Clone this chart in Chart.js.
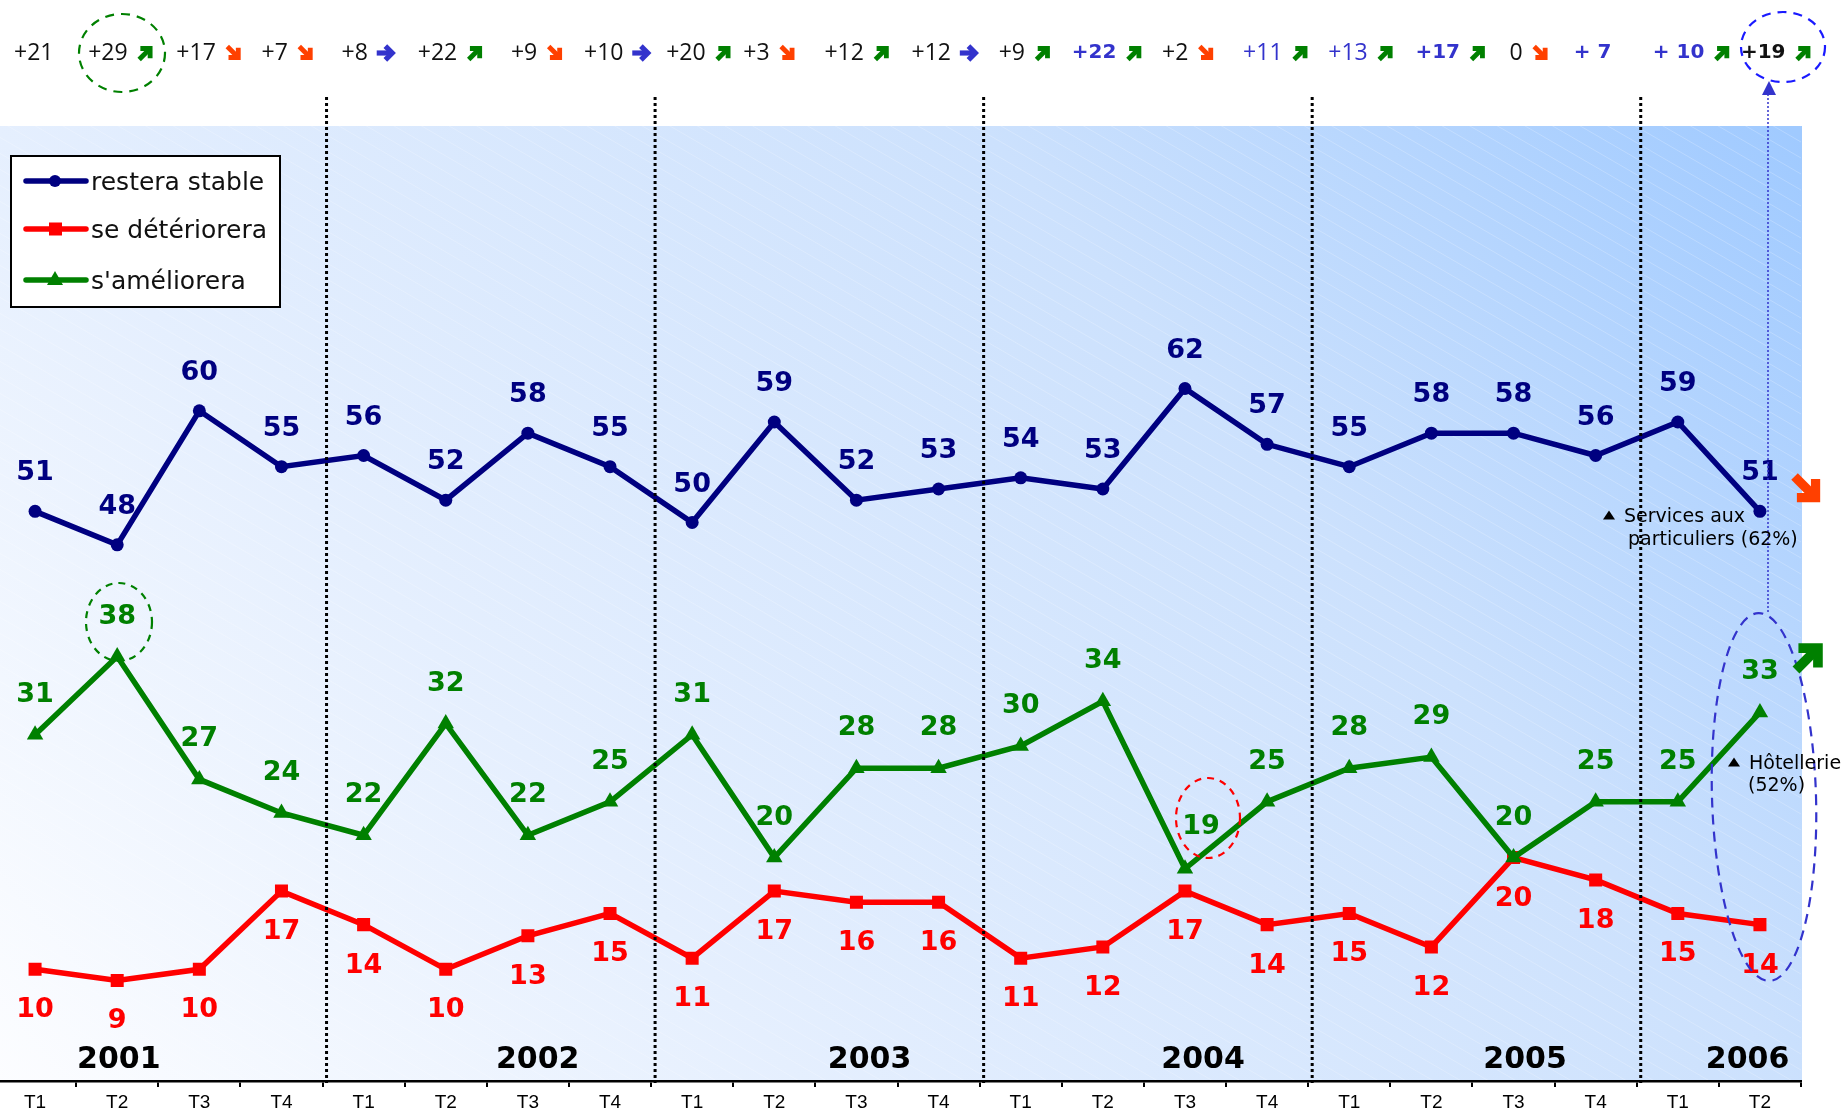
<!DOCTYPE html>
<html><head><meta charset="utf-8">
<script src="https://cdn.jsdelivr.net/npm/chart.js@4.4.1/dist/chart.umd.min.js"></script>
<style>
html,body{margin:0;padding:0;background:#fff;overflow:hidden;width:1841px;height:1114px;}
#wrap{position:absolute;left:-6px;top:0;width:1847px;height:1114px;}
</style></head>
<body><div id="wrap"><canvas id="c" width="1847" height="1114"></canvas></div>
<script>
// ---------------- DATA ----------------
const categories = ['T1','T2','T3','T4','T1','T2','T3','T4','T1','T2','T3','T4','T1','T2','T3','T4','T1','T2','T3','T4','T1','T2'];
const years = ['2001','2002','2003','2004','2005','2006'];
const stable = [51,48,60,55,56,52,58,55,50,59,52,53,54,53,62,57,55,58,58,56,59,51];
const worse  = [10,9,10,17,14,10,13,15,11,17,16,16,11,12,17,14,15,12,20,18,15,14];
const better = [31,38,27,24,22,32,22,25,31,20,28,28,30,34,19,25,28,29,20,25,25,33];
const seriesNames = ['restera stable','se détériorera',"s'améliorera"];
const balanceText  = ['+21','+29','+17','+7','+8','+22','+9','+10','+20','+3','+12','+12','+9','+22','+2','+11','+13','+17','0','+ 7','+ 10','+19'];
const balanceArrow = ['','up','down','down','right','up','down','right','up','down','up','right','up','up','down','up','up','up','down','','up','up'];
// n = normal black, b = normal blue, B = bold blue, K = bold black
const balanceStyle = ['n','n','n','n','n','n','n','n','n','n','n','n','n','B','n','b','b','B','n','B','B','K'];
const noteStable = ['Services aux','particuliers (62%)'];
const noteBetter = ['Hôtellerie','(52%)'];

// ---------------- LAYOUT ----------------
const SHIFT = 6;               // canvas is shifted 6px left of the page
const yearPos = [1.02, 6.12, 10.16, 14.22, 18.14, 20.85];
const topOffset = [-21,-29,-23,-20,-22,-28,-17,-26,-26,-31,-32,-27,-22,-31,-23,-24,-21,-16,-4,-22,-25,-19];
const NAVY = '#000080', RED = '#ff0000', GREEN = '#008000', BLUE = '#3333cc', ORANGE = '#ff4000';

function drawArrow(ctx, x, y, dir, s) {
  const ang = dir === 'up' ? -Math.PI/4 : dir === 'down' ? Math.PI/4 : 0;
  const col = dir === 'up' ? GREEN : dir === 'down' ? ORANGE : BLUE;
  ctx.save();
  ctx.translate(x, y); ctx.rotate(ang); ctx.scale(s, s);
  ctx.strokeStyle = col; ctx.lineWidth = dir === 'right' ? 4.5 : 4.2; ctx.lineJoin = 'miter'; ctx.lineCap = 'butt';
  ctx.setLineDash([]);
  ctx.beginPath(); ctx.moveTo(-8, 0); ctx.lineTo(5, 0); ctx.stroke();
  ctx.beginPath(); ctx.moveTo(-0.5, -6); ctx.lineTo(5.5, 0); ctx.lineTo(-0.5, 6); ctx.stroke();
  ctx.restore();
}
function tri(ctx, x, y, w, h, col) {
  ctx.fillStyle = col; ctx.beginPath();
  ctx.moveTo(x, y - h/2); ctx.lineTo(x + w/2, y + h/2); ctx.lineTo(x - w/2, y + h/2); ctx.closePath(); ctx.fill();
}
function dashedEllipse(ctx, cx, cy, rx, ry, rot, col, dash) {
  ctx.save(); ctx.strokeStyle = col; ctx.lineWidth = 2.2; ctx.setLineDash(dash);
  ctx.beginPath(); ctx.ellipse(cx, cy, rx, ry, rot, 0, Math.PI*2); ctx.stroke(); ctx.restore();
}

const bgPlugin = {
  id: 'bg',
  beforeDraw(chart) {
    const {ctx, chartArea: a} = chart;
    const W = a.right - a.left, H = a.bottom - a.top;
    ctx.save();
    ctx.fillStyle = '#fff'; ctx.fillRect(0, 0, chart.width, chart.height);
    const g = ctx.createLinearGradient(a.left, a.bottom, a.left + 0.84 * W, a.bottom - 1.344 * H);
    g.addColorStop(0, '#fcfdff'); g.addColorStop(0.31, '#e5effe'); g.addColorStop(0.69, '#cce1fd');
    g.addColorStop(1, '#a0caff');
    ctx.fillStyle = g;
    ctx.fillRect(a.left, a.top, W + 1, H);
    ctx.beginPath(); ctx.rect(a.left, a.top, W + 1, H); ctx.clip();
    ctx.strokeStyle = 'rgba(255,255,255,0.22)'; ctx.lineWidth = 1;
    const k = 0.58;
    for (let y0 = a.top - W*k; y0 < a.bottom; y0 += 16) {
      ctx.beginPath(); ctx.moveTo(a.left, y0); ctx.lineTo(a.right, y0 + W*k); ctx.stroke();
    }
    ctx.restore();
  },
  afterDatasetsDraw(chart) {
    const {ctx, chartArea: a} = chart;
    const xs = chart.scales.x;
    // year separators
    ctx.save();
    ctx.strokeStyle = '#000'; ctx.lineWidth = 3; ctx.setLineDash([3, 3]);
    [3, 7, 11, 15, 19].forEach(i => {
      const x = (xs.getPixelForValue(i) + xs.getPixelForValue(i + 1)) / 2 + 4;
      ctx.beginPath(); ctx.moveTo(x, 97); ctx.lineTo(x, a.bottom + 2); ctx.stroke();
    });
    ctx.restore();

    // data labels
    ctx.save();
    ctx.font = 'bold 27px "DejaVu Sans"'; ctx.textAlign = 'center'; ctx.textBaseline = 'middle';
    const cfg = [{d: 0, col: NAVY, dy: -38}, {d: 1, col: GREEN, dy: -40}, {d: 2, col: RED, dy: 41}];
    cfg.forEach(c => {
      const meta = chart.getDatasetMeta(c.d);
      const vals = chart.data.datasets[c.d].data;
      meta.data.forEach((p, i) => {
        let dx = 0, dy = c.dy;
        if (c.d === 1 && i === 14) { dx = 16; dy = -42; }
        ctx.fillStyle = c.col;
        ctx.fillText(String(vals[i]), p.x + dx, p.y + dy);
      });
    });
    ctx.fillStyle = '#000'; ctx.font = 'bold 30px "DejaVu Sans"';
    years.forEach((y, i) => ctx.fillText(y, xs.getPixelForValue(yearPos[i]), 1060));
    ctx.restore();

    // top balance row
    ctx.save();
    ctx.textBaseline = 'middle'; ctx.textAlign = 'left';
    balanceText.forEach((t, i) => {
      const st = balanceStyle[i];
      ctx.font = (st === 'B' || st === 'K') ? 'bold 20px "DejaVu Sans"' : '23px "Open Sans"';
      ctx.fillStyle = (st === 'b' || st === 'B') ? BLUE : '#111';
      const x0 = xs.getPixelForValue(i) + topOffset[i];
      ctx.fillText(t, x0, 53);
      if (balanceArrow[i]) {
        const w = ctx.measureText(t).width;
        drawArrow(ctx, x0 + w + 18, 53, balanceArrow[i], 1.15);
      }
    });
    ctx.restore();

    // annotations (page coords -> canvas coords)
    ctx.save();
    ctx.translate(SHIFT, 0);
    dashedEllipse(ctx, 122, 53, 43, 39, 0, GREEN, [9, 7]);
    dashedEllipse(ctx, 1783, 47, 42, 35, 0, '#1a1aff', [9, 7]);
    dashedEllipse(ctx, 119, 622, 33, 39, 0, GREEN, [7, 6]);
    dashedEllipse(ctx, 1208, 818, 32, 40, 0, RED, [7, 6]);
    dashedEllipse(ctx, 1764, 797, 52, 184, -0.03, BLUE, [10, 7]);
    ctx.strokeStyle = BLUE; ctx.lineWidth = 1.5; ctx.setLineDash([2, 2]);
    ctx.beginPath(); ctx.moveTo(1768, 94); ctx.lineTo(1768, 613); ctx.stroke();
    ctx.setLineDash([]);
    ctx.fillStyle = BLUE; ctx.beginPath(); ctx.moveTo(1769, 81); ctx.lineTo(1776, 95); ctx.lineTo(1762, 95); ctx.closePath(); ctx.fill();
    drawArrow(ctx, 1807, 489, 'down', 2.2);
    drawArrow(ctx, 1809, 657, 'up', 2.3);
    ctx.fillStyle = '#1a1a1a'; ctx.font = '19px "DejaVu Sans"'; ctx.textBaseline = 'middle'; ctx.textAlign = 'left';
    tri(ctx, 1609, 515, 12, 9, '#000');
    ctx.fillText(noteStable[0], 1624, 517);
    ctx.fillText(noteStable[1], 1628, 540);
    tri(ctx, 1734, 762, 12, 9, '#000');
    ctx.fillText(noteBetter[0], 1749, 764);
    ctx.fillText(noteBetter[1], 1748, 786);
    // legend
    ctx.fillStyle = '#fff'; ctx.fillRect(11, 156, 269, 151);
    ctx.strokeStyle = '#000'; ctx.lineWidth = 2; ctx.strokeRect(11, 156, 269, 151);
    const rows = [{y: 181, col: NAVY, m: 'c'}, {y: 229, col: RED, m: 's'}, {y: 280, col: GREEN, m: 't'}];
    ctx.font = '25px "DejaVu Sans"';
    rows.forEach((r, i) => {
      ctx.strokeStyle = r.col; ctx.lineWidth = 5.5; ctx.lineCap = 'round';
      ctx.beginPath(); ctx.moveTo(26, r.y); ctx.lineTo(86, r.y); ctx.stroke();
      ctx.fillStyle = r.col;
      if (r.m === 'c') { ctx.beginPath(); ctx.arc(55, r.y, 6, 0, Math.PI*2); ctx.fill(); }
      if (r.m === 's') { ctx.fillRect(49, r.y - 6.5, 13, 13); }
      if (r.m === 't') { tri(ctx, 55, r.y - 2, 16, 14, r.col); }
      ctx.fillStyle = '#111';
      ctx.fillText(seriesNames[i], 91, r.y + 2);
    });
    ctx.restore();
  }
};

new Chart(document.getElementById('c'), {
  type: 'line',
  data: {
    labels: categories,
    datasets: [
      {label: seriesNames[0], data: stable, borderColor: NAVY, backgroundColor: NAVY, borderWidth: 5.5,
       pointStyle: 'circle', pointRadius: 6.5, pointBorderWidth: 0, tension: 0},
      {label: seriesNames[2], data: better, borderColor: GREEN, backgroundColor: GREEN, borderWidth: 5.5,
       pointStyle: 'triangle', pointRadius: 9.5, pointBorderWidth: 0, tension: 0},
      {label: seriesNames[1], data: worse, borderColor: RED, backgroundColor: RED, borderWidth: 5.5,
       pointStyle: 'rect', pointRadius: 9.2, pointBorderWidth: 0, tension: 0}
    ]
  },
  options: {
    responsive: false, animation: false, devicePixelRatio: 1,
    layout: {autoPadding: false, padding: {top: 126, left: 0, right: 40, bottom: 0}},
    plugins: {legend: {display: false}, tooltip: {enabled: false}, title: {display: false}},
    scales: {
      x: {
        type: 'category', offset: true,
        grid: {offset: true, drawOnChartArea: false, drawTicks: true, tickLength: 6, color: '#000', lineWidth: 2},
        border: {display: true, color: '#000', width: 2.5},
        ticks: {color: '#000', font: {family: '"Liberation Sans", Arial, sans-serif', size: 19}, padding: 4, maxRotation: 0, autoSkip: false},
        afterFit(scale) { scale.height = 33; }
      },
      y: {display: false, min: 0, max: 85.5}
    }
  },
  plugins: [bgPlugin]
});
</script>
</body></html>
